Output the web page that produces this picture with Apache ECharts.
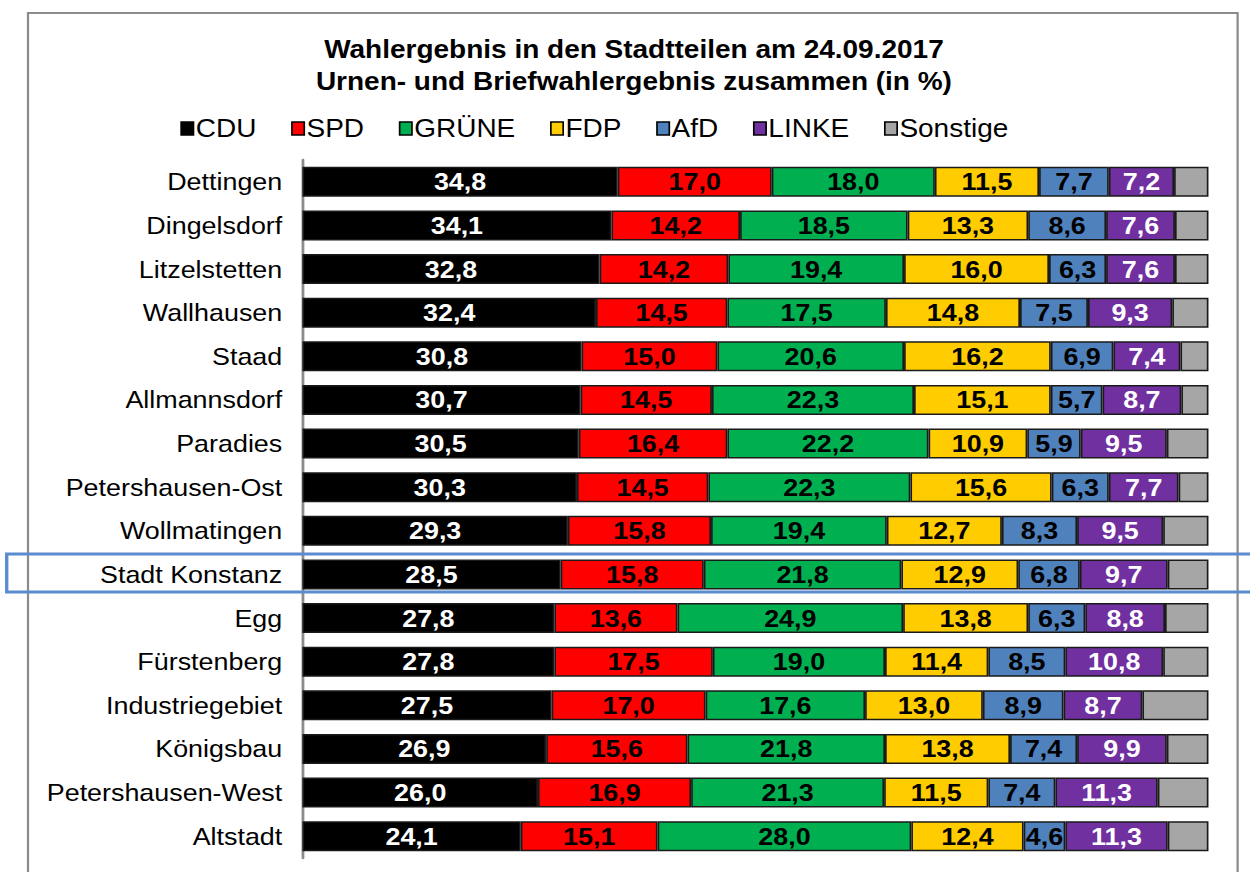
<!DOCTYPE html>
<html>
<head>
<meta charset="utf-8">
<script src="https://cdn.jsdelivr.net/npm/echarts@6/dist/echarts.min.js"></script>
<style>
  html, body { margin: 0; padding: 0; background: #fff; overflow: hidden; }
  /* die Vorlage ist leicht in die Breite gezogen: 1116 * 1.12 = 1250 */
  #main { width: 1116px; height: 872px; transform: scaleX(1.12); transform-origin: 0 0; }
</style>
</head>
<body>
<div id="main"></div>
<script>
// Stadtteile, von oben nach unten
var stadtteile = ['Dettingen', 'Dingelsdorf', 'Litzelstetten', 'Wallhausen', 'Staad', 'Allmannsdorf',
  'Paradies', 'Petershausen-Ost', 'Wollmatingen', 'Stadt Konstanz', 'Egg', 'Fürstenberg',
  'Industriegebiet', 'Königsbau', 'Petershausen-West', 'Altstadt'];

var cdu      = [34.8, 34.1, 32.8, 32.4, 30.8, 30.7, 30.5, 30.3, 29.3, 28.5, 27.8, 27.8, 27.5, 26.9, 26.0, 24.1];
var spd      = [17.0, 14.2, 14.2, 14.5, 15.0, 14.5, 16.4, 14.5, 15.8, 15.8, 13.6, 17.5, 17.0, 15.6, 16.9, 15.1];
var gruene   = [18.0, 18.5, 19.4, 17.5, 20.6, 22.3, 22.2, 22.3, 19.4, 21.8, 24.9, 19.0, 17.6, 21.8, 21.3, 28.0];
var fdp      = [11.5, 13.3, 16.0, 14.8, 16.2, 15.1, 10.9, 15.6, 12.7, 12.9, 13.8, 11.4, 13.0, 13.8, 11.5, 12.4];
var afd      = [7.7, 8.6, 6.3, 7.5, 6.9, 5.7, 5.9, 6.3, 8.3, 6.8, 6.3, 8.5, 8.9, 7.4, 7.4, 4.6];
var linke    = [7.2, 7.6, 7.6, 9.3, 7.4, 8.7, 9.5, 7.7, 9.5, 9.7, 8.8, 10.8, 8.7, 9.9, 11.3, 11.3];
// Sonstige: ohne Beschriftung, Breite aus dem Bild geschätzt
var sonstige = [3.8, 3.7, 3.7, 4.0, 3.1, 3.0, 4.6, 3.3, 5.0, 4.5, 4.8, 5.0, 7.3, 4.6, 5.6, 4.5];

var parteien = ['CDU', 'SPD', 'GRÜNE', 'FDP', 'AfD', 'LINKE', 'Sonstige'];
var farben   = ['#000000', '#ff0000', '#00b050', '#ffcc00', '#4f81bd', '#7030a0', '#a6a6a6'];
var schrift  = ['#ffffff', '#000000', '#000000', '#000000', '#000000', '#ffffff', null];
var werte    = [cdu, spd, gruene, fdp, afd, linke, sonstige];

var font = "'Liberation Sans', Arial, sans-serif";

var series = parteien.map(function (name, i) {
  return {
    name: name,
    type: 'bar',
    stack: 'gesamt',
    barWidth: 30,
    data: werte[i],
    itemStyle: { color: farben[i], borderColor: '#1a1a1a', borderWidth: 1.5 },
    label: {
      show: schrift[i] !== null,
      position: 'inside',
      color: schrift[i] || '#000',
      fontFamily: font,
      fontWeight: 'bold',
      fontSize: 24,
      formatter: function (p) { return p.value.toFixed(1).replace('.', ','); }
    },
    emphasis: { disabled: true }
  };
});

var myChart = echarts.init(document.getElementById('main'), null, { renderer: 'svg' });
myChart.setOption({
  backgroundColor: '#ffffff',
  animation: false,
  title: {
    text: 'Wahlergebnis in den Stadtteilen am 24.09.2017\nUrnen- und Briefwahlergebnis zusammen (in %)',
    left: 561,
    textAlign: 'center',
    top: 29,
    textStyle: { fontFamily: font, fontWeight: 'bold', fontSize: 25, lineHeight: 32, color: '#000' }
  },
  legend: {
    top: 111,
    left: 156,
    itemWidth: 11,
    itemHeight: 13,
    itemGap: 31,
    icon: 'rect',
    data: parteien,
    itemStyle: { borderColor: '#000', borderWidth: 1.5 },
    textStyle: { fontFamily: font, fontSize: 25, color: '#000', padding: [0, 0, 0, -3] }
  },
  grid: { left: 270, right: 37, top: 160, bottom: 14 },
  xAxis: { type: 'value', min: 0, max: 100, show: false },
  yAxis: {
    type: 'category',
    inverse: true,
    data: stadtteile,
    axisLine: { show: true, lineStyle: { color: '#8c8c8c', width: 2.5 } },
    axisTick: { show: false },
    axisLabel: { fontFamily: font, fontSize: 24, color: '#000', margin: 18 }
  },
  graphic: [
    {
      type: 'rect', z: 0,
      shape: { x: 25, y: 13, width: 1080, height: 900 },
      style: { fill: 'none', stroke: '#8c8c8c', lineWidth: 2 }
    },
    {
      type: 'rect', z: 100,
      shape: { x: 6, y: 554, width: 1130, height: 38 },
      style: { fill: 'none', stroke: '#5b8bd0', lineWidth: 3 }
    }
  ],
  series: series
});
</script>
</body>
</html>
